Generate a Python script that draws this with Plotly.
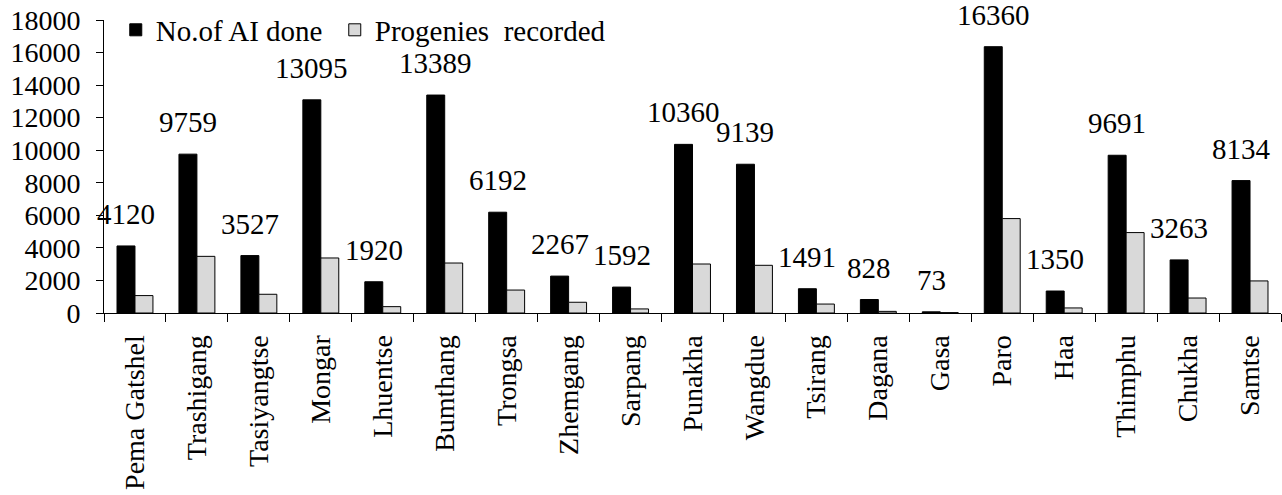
import plotly.graph_objects as go

districts = ["Pema Gatshel", "Trashigang", "Tasiyangtse", "Mongar", "Lhuentse", "Bumthang",
             "Trongsa", "Zhemgang", "Sarpang", "Punakha", "Wangdue", "Tsirang", "Dagana",
             "Gasa", "Paro", "Haa", "Thimphu", "Chukha", "Samtse"]
ai_done = [4120, 9759, 3527, 13095, 1920, 13389, 6192, 2267, 1592, 10360, 9139, 1491, 828,
           73, 16360, 1350, 9691, 3263, 8134]
progenies = [1070, 3480, 1150, 3380, 390, 3070, 1410, 660, 250, 3010, 2930, 550, 100,
             20, 5800, 310, 4940, 920, 1970]
y_ticks = [0, 2000, 4000, 6000, 8000, 10000, 12000, 14000, 16000, 18000]
y_tick_labels = [str(v) for v in y_ticks]

FONT = "Liberation Serif"
BARGAP = 0.42

fig = go.Figure()
fig.add_trace(go.Bar(x=districts, y=ai_done, name="No.of AI done\u00a0",
                     marker=dict(color="#000000", line=dict(color="#000000", width=1))))
fig.add_trace(go.Bar(x=districts, y=progenies, name="Progenies  recorded",
                     marker=dict(color="#d9d9d9", line=dict(color="#000000", width=1))))

offset = (1 - BARGAP) / 4
for i, v in enumerate(ai_done):
    fig.add_annotation(x=i - offset, y=v, text=str(v), showarrow=False,
                       yanchor="bottom", yshift=14, xref="x", yref="y",
                       font=dict(family=FONT, size=29, color="black"))

fig.update_layout(
    width=1282, height=495,
    margin=dict(l=104, r=1, t=20, b=182, autoexpand=False),
    paper_bgcolor="white", plot_bgcolor="white",
    barmode="group", bargap=BARGAP, bargroupgap=0,
    font=dict(family=FONT, size=28, color="black"),
    showlegend=True,
    legend=dict(orientation="h", x=0.01, y=0.966, xanchor="left", yanchor="middle",
                font=dict(family=FONT, size=29, color="black"),
                bgcolor="rgba(0,0,0,0)", itemwidth=30, tracegroupgap=0),
)
fig.update_xaxes(type="category", showline=True, linecolor="black", linewidth=1,
                 ticks="outside", tickson="boundaries", ticklen=8, tickcolor="black",
                 tickangle=-90, tickfont=dict(family=FONT, size=28), showgrid=False,
                 range=[-0.5, len(districts) - 0.5], automargin=False,
                 ticklabelstandoff=10)
fig.update_yaxes(range=[0, 18000], tickvals=y_ticks, ticktext=y_tick_labels, showline=True,
                 linecolor="black", linewidth=1, ticks="outside", ticklen=7, tickcolor="black",
                 tickfont=dict(family=FONT, size=28), showgrid=False, zeroline=False,
                 ticklabelstandoff=10, automargin=False)

fig.write_html("out.html", config={"displayModeBar": False},
               post_script="document.body.style.margin='0';")
